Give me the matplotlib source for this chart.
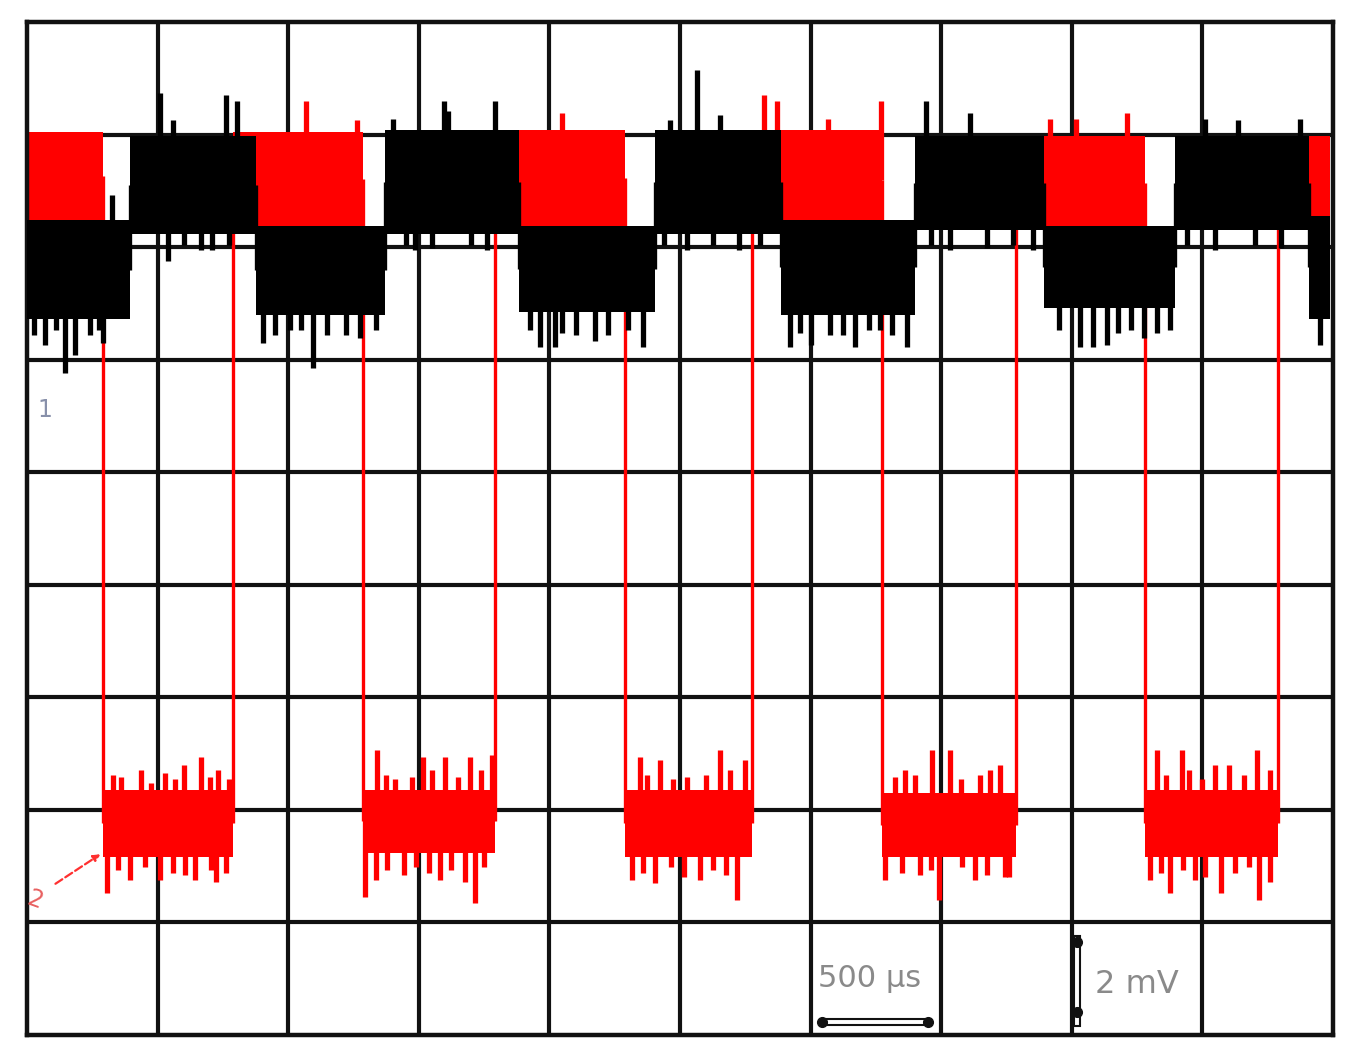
import numpy as np
import matplotlib
matplotlib.use("Agg")
import matplotlib.pyplot as plt
from matplotlib.patches import Rectangle

# screen is 10 x 9 divisions (500 us/div, 2 mV/div), everything in divisions
n_xdiv, n_ydiv = 10, 9

# channel 1 (black): edges of each half period, starts low
black_edges = [0.0, 0.79, 1.75, 2.74, 3.77, 4.81, 5.77, 6.80, 7.79, 8.79, 9.82, 9.98]
black_top = [7.24, 7.99, 7.19, 8.04, 7.19, 8.04, 7.24, 7.99, 7.19, 7.99, 7.28]
black_bot = [6.36, 7.12, 6.40, 7.12, 6.42, 7.12, 6.40, 7.15, 6.46, 7.15, 6.36]
black_spike_x = [0.14, 0.29, 0.37, 0.48, 0.58, 0.65, 0.05, 0.22, 0.55,
                 1.02, 1.12, 1.52, 1.61, 1.08, 1.33, 1.20, 1.42, 1.55,
                 1.81, 2.01, 2.19, 2.44, 2.67, 1.90, 2.10, 2.30, 2.55,
                 2.80, 3.19, 3.22, 3.58, 2.97, 2.90, 3.10, 3.40, 3.52,
                 3.93, 4.04, 4.20, 4.35, 4.72, 3.85, 4.10, 4.45, 4.60,
                 5.13, 5.31, 4.92, 5.61, 4.88, 5.05, 5.25, 5.45,
                 5.84, 6.00, 6.15, 6.34, 6.53, 6.74, 5.92, 6.25, 6.45, 6.62,
                 6.88, 7.22, 7.07, 6.92, 7.35, 7.55, 7.70,
                 8.06, 8.16, 8.27, 8.45, 8.75, 7.90, 8.35, 8.55, 8.65,
                 9.02, 9.27, 9.75, 8.88, 9.10, 9.40, 9.60,
                 9.90]
black_spike_tip = [6.13, 5.88, 6.04, 6.22, 6.15, 7.46, 6.22, 6.26, 6.26,
                   8.37, 8.13, 8.35, 8.30, 6.88, 6.97, 7.02, 6.97, 7.02,
                   6.15, 6.26, 5.93, 6.22, 6.26, 6.22, 6.26, 6.22, 6.19,
                   8.14, 8.30, 8.21, 8.30, 6.97, 7.02, 6.99, 7.02, 6.97,
                   6.11, 6.11, 6.22, 6.17, 6.11, 6.26, 6.24, 6.22, 6.26,
                   8.57, 8.17, 8.13, 7.02, 7.02, 6.97, 7.02, 6.97,
                   6.11, 6.13, 6.22, 6.11, 6.26, 6.11, 6.24, 6.22, 6.26, 6.22,
                   8.30, 8.19, 6.97, 7.02, 6.99, 7.02, 6.97,
                   6.11, 6.11, 6.13, 6.26, 6.26, 6.26, 6.24, 6.19, 6.24,
                   8.14, 8.13, 8.14, 7.02, 6.97, 7.02, 6.99,
                   6.13]

# channel 2 (red): starts high
red_edges = [0.0, 0.58, 1.58, 2.57, 3.58, 4.58, 5.55, 6.55, 7.57, 8.56, 9.58, 9.98]
red_top = [8.02, 2.18, 8.02, 2.18, 8.04, 2.18, 8.04, 2.15, 7.99, 2.18, 7.99]
red_bot = [7.24, 1.58, 7.19, 1.62, 7.19, 1.58, 7.15, 1.58, 7.15, 1.58, 7.19]
red_spike_x = [0.14, 0.48, 0.30,
               0.61, 0.79, 1.02, 1.29, 1.52, 0.66, 1.06, 1.33, 0.87,
               0.72, 0.95, 1.13, 1.20, 1.40, 1.46, 1.55,
               0.70, 0.90, 1.12, 1.21, 1.41, 1.45,
               2.14, 2.53, 2.32, 1.95, 2.10, 2.45,
               2.59, 2.67, 2.89, 3.16, 3.43, 2.68, 3.03, 3.20, 3.39, 3.56,
               2.75, 2.82, 2.95, 3.10, 3.30, 3.48,
               2.76, 2.98, 3.08, 3.25, 3.35, 3.50,
               4.10, 4.31, 3.90, 4.20, 4.50,
               4.63, 4.81, 5.15, 5.44, 4.69, 4.85, 5.31, 5.50,
               4.75, 4.95, 5.05, 5.20, 5.38,
               4.72, 4.93, 5.03, 5.25, 5.35,
               5.64, 5.74, 6.13, 6.54, 6.03, 5.90, 6.20, 6.45,
               6.57, 6.84, 6.98, 7.26, 7.49, 6.65, 6.93, 7.07, 7.37,
               6.72, 6.80, 7.15, 7.30, 7.45,
               6.70, 6.92, 7.16, 7.35, 7.52,
               7.83, 8.03, 8.42, 8.29, 7.90, 8.10, 8.45,
               8.60, 8.75, 8.94, 9.14, 9.43, 8.65, 8.84, 9.10, 9.42,
               8.72, 8.90, 9.00, 9.20, 9.32, 9.52,
               8.68, 8.85, 9.02, 9.25, 9.36, 9.52,
               9.90, 9.85]
red_spike_tip = [7.12, 7.06, 7.10,
                 1.26, 1.38, 1.38, 1.38, 1.44, 2.31, 2.33, 2.47, 2.35,
                 2.29, 2.24, 2.27, 2.40, 2.29, 2.35, 2.27,
                 1.47, 1.49, 1.44, 1.42, 1.47, 1.36,
                 8.30, 8.13, 7.06, 7.10, 7.06, 7.10,
                 1.23, 1.38, 1.42, 1.38, 1.17, 2.53, 2.47, 2.47, 2.47, 2.49,
                 2.31, 2.27, 2.29, 2.35, 2.29, 2.35,
                 1.47, 1.49, 1.44, 1.47, 1.36, 1.49,
                 8.19, 7.06, 7.10, 7.06, 7.08,
                 1.38, 1.35, 1.38, 1.20, 2.47, 2.44, 2.53, 2.44,
                 2.31, 2.27, 2.29, 2.31, 2.35,
                 1.44, 1.49, 1.40, 1.47, 1.42,
                 8.35, 8.30, 8.14, 8.30, 7.02, 7.06, 7.03, 7.10,
                 1.38, 1.42, 1.20, 1.38, 1.40, 2.29, 2.53, 2.53, 2.35,
                 2.35, 2.31, 2.27, 2.31, 2.40,
                 1.44, 1.47, 1.49, 1.42, 1.40,
                 8.14, 8.14, 8.19, 7.02, 7.10, 7.06, 7.08,
                 1.38, 1.26, 1.38, 1.26, 1.20, 2.53, 2.53, 2.40, 2.53,
                 2.31, 2.35, 2.27, 2.40, 2.31, 2.35,
                 1.44, 1.47, 1.40, 1.44, 1.49, 1.36,
                 7.03, 7.10]


def draw_trace(ax, edges, top, bot, spike_x, spike_tip, color, z):
    edges = np.array(edges)
    top = np.array(top)
    bot = np.array(bot)
    mid = (top + bot) / 2
    # noisy bands
    for i in range(len(top)):
        ax.fill_between([edges[i], edges[i + 1]], bot[i], top[i],
                        color=color, lw=0, zorder=z)
    # switching edges
    for i in range(1, len(top)):
        ax.vlines(edges[i], min(mid[i - 1], mid[i]), max(mid[i - 1], mid[i]),
                  color=color, lw=2.4, zorder=z)
    # spikes
    seg = np.searchsorted(edges, spike_x) - 1
    ax.vlines(spike_x, mid[seg], spike_tip, color=color, lw=3.8, zorder=z)


fig = plt.figure(figsize=(13.55, 10.57), dpi=100)
ax = fig.add_axes([27 / 1355, 22 / 1057, 1306 / 1355, 1013 / 1057])
ax.set_xlim(0, n_xdiv)
ax.set_ylim(0, n_ydiv)

# graticule
for xv in range(1, n_xdiv):
    ax.axvline(xv, color='#111111', lw=3, zorder=1)
for yv in range(1, n_ydiv):
    ax.axhline(yv, color='#111111', lw=3, zorder=1)
for s in ax.spines.values():
    s.set_linewidth(3.2)
    s.set_color('#111111')
ax.set_xticks([])
ax.set_yticks([])

draw_trace(ax, red_edges, red_top, red_bot, red_spike_x, red_spike_tip, '#ff0000', 2)
draw_trace(ax, black_edges, black_top, black_bot, black_spike_x, black_spike_tip, '#000000', 3)

# channel markers
ax.text(0.14, 5.55, '1', color='#8890aa', fontsize=17, ha='center', va='center', zorder=4)
ax.text(0.06, 1.2, '2', color='#e86060', fontsize=17, ha='center', va='center',
        rotation=-20, zorder=4)
ax.annotate('', xy=(0.58, 1.62), xytext=(0.2, 1.33),
            arrowprops=dict(arrowstyle='-|>', color='#ff3030', lw=1.6, ls='--'), zorder=4)

# scale bars
ax.text(6.45, 0.5, '500 µs', color='#8a8a8a', fontsize=22, ha='center', va='center', zorder=4)
ax.add_patch(Rectangle((6.09, 0.09), 0.82, 0.05, fill=False, ec='#111111', lw=1.5, zorder=4))
ax.plot([6.09, 6.9], [0.115, 0.115], ls='none', marker='o', ms=7, color='#111111', zorder=4)
ax.text(8.5, 0.45, '2 mV', color='#8a8a8a', fontsize=23, ha='center', va='center', zorder=4)
ax.add_patch(Rectangle((8.02, 0.08), 0.045, 0.8, fill=False, ec='#111111', lw=1.5, zorder=4))
ax.plot([8.04, 8.04], [0.2, 0.83], ls='none', marker='o', ms=7, color='#111111', zorder=4)

fig.savefig('out.png', dpi=100, facecolor='white')
